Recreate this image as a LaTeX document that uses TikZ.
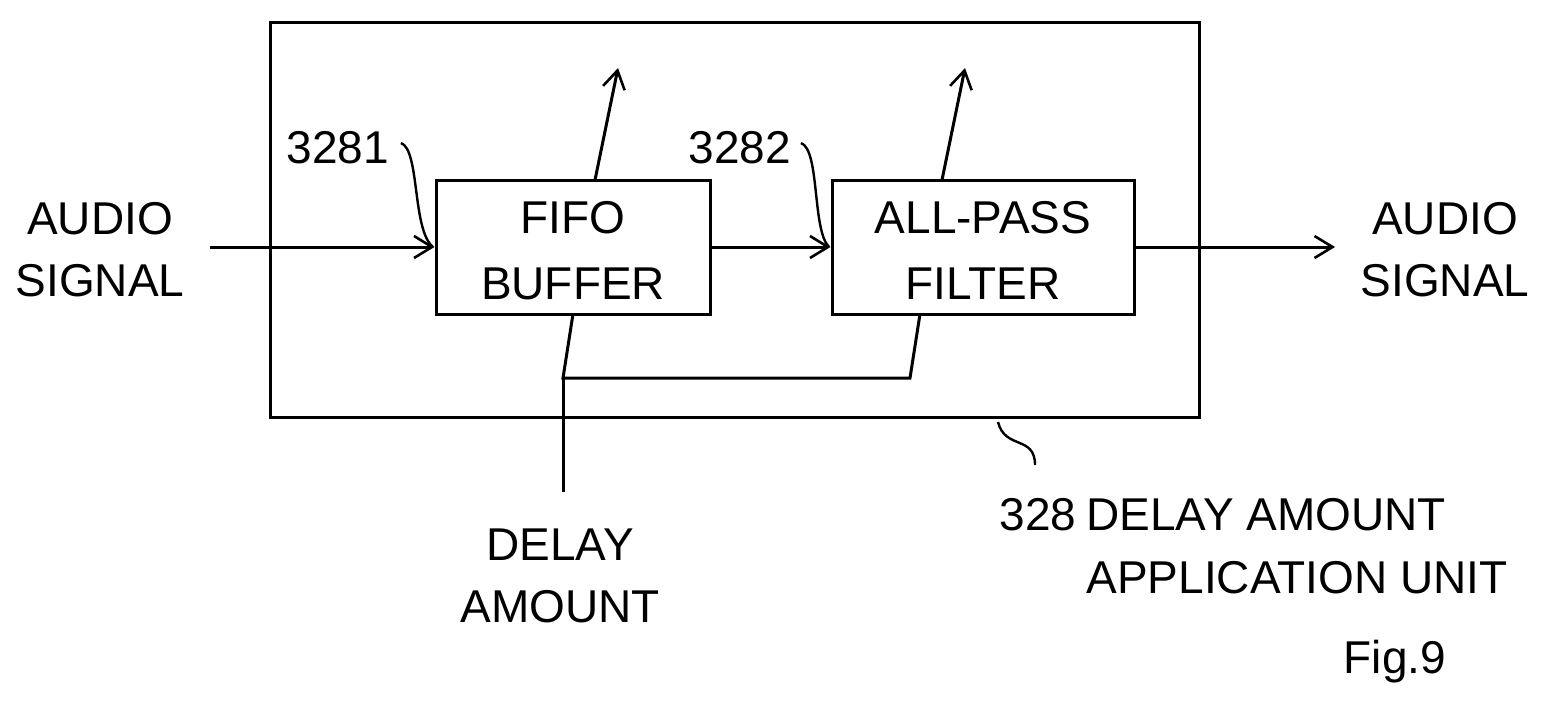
\documentclass[tikz,border=0pt]{standalone}
\usepackage{fontspec}
\setmainfont{Liberation Sans}
\usetikzlibrary{arrows.meta}
\begin{document}
\begin{tikzpicture}[x=0.5pt,y=-0.5pt,
  line width=1.5pt,
  arr/.style={-{Straight Barb[length=9pt,width=11pt,line width=1.3pt]}},
  txt/.style={font=\fontsize{23}{31}\selectfont,align=center,inner sep=0},
  box/.style={draw,minimum width=0,inner sep=0}]
\useasboundingbox (0,0) rectangle (1546,712);
\draw (270,22) rectangle (1199,417);
\node[box,minimum width=137pt,minimum height=67pt] (fifo) at (573,247) {};
\node[box,minimum width=151pt,minimum height=67pt] (apf) at (983,247) {};
\node[txt] at (573,218) {FIFO};
\node[txt] at (573,284) {BUFFER};
\node[txt] at (983,218) {ALL-PASS};
\node[txt] at (983,284) {FILTER};
\node[txt] (in) at (100,250) {AUDIO\\SIGNAL};
\node[txt] (out) at (1445,250) {AUDIO\\SIGNAL};
\coordinate (inS) at (210,247);
\coordinate (outE) at (1335,247);
\draw[arr] (inS) -- (fifo.west);
\draw[arr] (fifo.east) -- (apf.west);
\draw[arr] (apf.east) -- (outE);
\coordinate (u1s) at (595,180); \coordinate (u1e) at (618,68);
\coordinate (u2s) at (942,180); \coordinate (u2e) at (965,68);
\draw[arr] (u1s) -- (u1e);
\draw[arr] (u2s) -- (u2e);
\coordinate (d1) at (573,314); \coordinate (j) at (563,378);
\coordinate (d2) at (910,378); \coordinate (d3) at (920,314);
\coordinate (dend) at (563,492);
\draw (d1) -- (j) -- (d2) -- (d3);
\draw (j) -- (dend);
\node[txt] (delay) at (560,576) {DELAY\\AMOUNT};
\node[txt] (l1) at (338,148) {3281};
\node[txt] (l2) at (740,148) {3282};
\draw[line width=1.2pt] (401,143) .. controls (420,150) and (412,230) .. (433,247);
\draw[line width=1.2pt] (801,143) .. controls (820,150) and (812,230) .. (829,247);
\draw[line width=1.2pt] (998,422) .. controls (1005,450) and (1035,435) .. (1035,465);
\node[txt,anchor=west] (n328) at (998,515) {328};
\node[txt,anchor=west] at (1085,515) {DELAY AMOUNT};
\node[txt,anchor=west] at (1085,578) {APPLICATION UNIT};
\node[txt] (fig) at (1395,662) {Fig.9};
\end{tikzpicture}
\end{document}
